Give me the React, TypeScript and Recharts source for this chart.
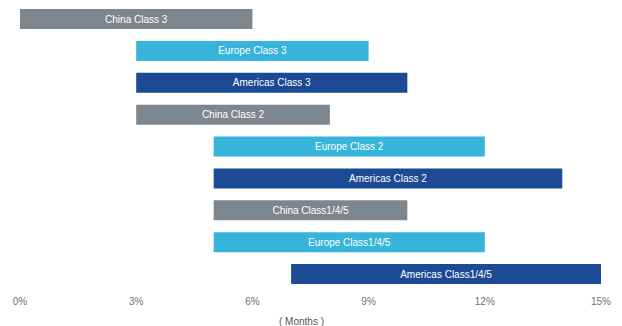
import { Bar, BarChart, XAxis, YAxis, LabelList, Label, Cell } from "recharts";

const categories = [
  "China Class 3",
  "Europe Class 3",
  "Americas Class 3",
  "China Class 2",
  "Europe Class 2",
  "Americas Class 2",
  "China Class1/4/5",
  "Europe Class1/4/5",
  "Americas Class1/4/5",
];
const starts = [0, 3, 3, 3, 5, 5, 5, 5, 7];
const ends = [6, 9, 10, 8, 12, 14, 10, 12, 15];
const regions = ["China", "Europe", "Americas", "China", "Europe", "Americas", "China", "Europe", "Americas"];
const xTicks = [0, 3, 6, 9, 12, 15];

const regionColors: Record<string, string> = {
  China: "#7e868d",
  Europe: "#37b4d9",
  Americas: "#1c4a94",
};

const data = categories.map((name, i) => ({
  name,
  range: [starts[i], ends[i]],
  region: regions[i],
}));

export default function App() {
  return (
    <div style={{ position: "absolute", left: 0, top: 0, background: "#fff" }}>
      <BarChart
        width={622}
        height={326}
        data={data}
        layout="vertical"
        margin={{ top: 3, right: 21, bottom: 0, left: 20 }}
      >
        <XAxis
          type="number"
          domain={[0, 15]}
          ticks={xTicks}
          tickFormatter={(v) => `${v}%`}
          axisLine={false}
          tickLine={false}
          height={36}
          tick={{ fill: "#707070", fontSize: 10, fontFamily: "Liberation Sans, Arial, sans-serif" }}
        >
          <Label
            value="( Months )"
            position="insideBottom"
            offset={1}
            dx={-9}
            style={{ fill: "#555", fontSize: 10, fontFamily: "Liberation Sans, Arial, sans-serif" }}
          />
        </XAxis>
        <YAxis type="category" dataKey="name" hide />
        <Bar dataKey="range" barSize={20} isAnimationActive={false}>
          {data.map((d) => (
            <Cell key={d.name} fill={regionColors[d.region]} />
          ))}
          <LabelList
            dataKey="name"
            position="center"
            fill="#ffffff"
            style={{ fontSize: 10, fontFamily: "Liberation Sans, Arial, sans-serif" }}
          />
        </Bar>
      </BarChart>
    </div>
  );
}
